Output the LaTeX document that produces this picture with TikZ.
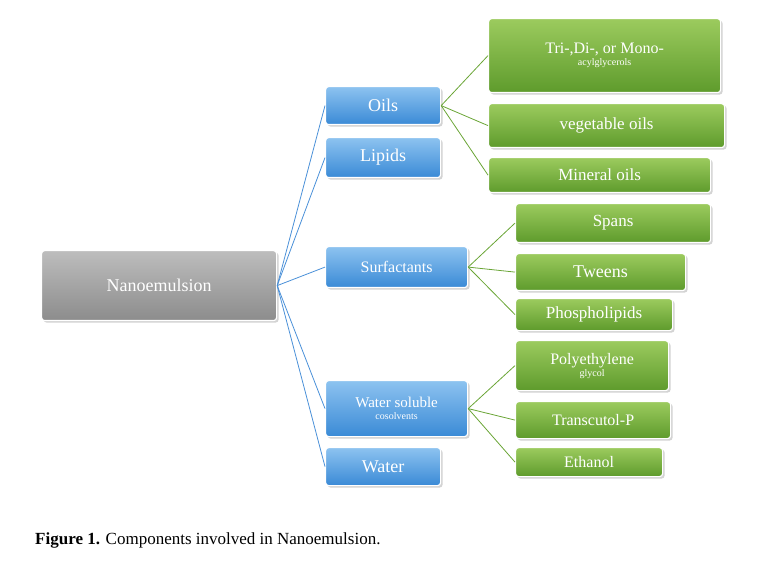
\documentclass[tikz,border=0pt]{standalone}
\usepackage{fontspec}
\setmainfont{Liberation Serif}
\usetikzlibrary{shadows}
\definecolor{bT}{HTML}{8DC3F0}
\definecolor{bB}{HTML}{3A8AD6}
\definecolor{gT}{HTML}{9CCB5E}
\definecolor{gB}{HTML}{5E9B2C}
\definecolor{yT}{HTML}{BDBDBD}
\definecolor{yB}{HTML}{8C8C8C}
\definecolor{bL}{HTML}{4A90D8}
\definecolor{gL}{HTML}{6AA536}
\begin{document}
\begin{tikzpicture}[x=1pt,y=-1pt,
 box/.style={draw=white,line width=1.2pt,rounded corners=3pt,align=center,text=white,
   drop shadow={shadow xshift=2pt,shadow yshift=-2pt,opacity=0.35}},
 bluebox/.style={box,top color=bT,bottom color=bB},
 greenbox/.style={box,top color=gT,bottom color=gB},
 graybox/.style={box,top color=yT,bottom color=yB},
 con/.style={draw=bL,line width=0.8pt},
 gcon/.style={draw=gL,line width=0.8pt}]
\useasboundingbox (0,0) rectangle (777,564);
\def\bx#1#2#3#4#5#6#7{\node[#2,minimum width=#5-#3,minimum height=#6-#4,anchor=north west,inner sep=2pt] (#1) at (#3,#4) {#7};}
\bx{nano}{graybox}{41}{250}{276}{320}{\fontsize{18}{20}\selectfont Nanoemulsion}
\bx{oils}{bluebox}{325}{86}{440}{124}{\fontsize{18}{20}\selectfont Oils}
\bx{lip}{bluebox}{325}{137}{440}{177}{\fontsize{18}{20}\selectfont Lipids}
\bx{surf}{bluebox}{325}{246}{467}{287}{\fontsize{16}{18}\selectfont Surfactants}
\bx{cos}{bluebox}{325}{380}{467}{436}{\fontsize{15}{17}\selectfont Water soluble\\cosolvents}
\bx{wat}{bluebox}{325}{447}{440}{485}{\fontsize{18}{20}\selectfont Water}
\bx{tri}{greenbox}{488}{18}{720}{92}{\fontsize{16}{20}\selectfont Tri-,Di-, or Mono-\\acylglycerols}
\bx{veg}{greenbox}{488}{103}{724}{147}{\fontsize{17}{20}\selectfont vegetable oils}
\bx{min}{greenbox}{488}{157}{710}{192}{\fontsize{17}{20}\selectfont Mineral oils}
\bx{spa}{greenbox}{515}{203}{710}{242}{\fontsize{17}{20}\selectfont Spans}
\bx{twe}{greenbox}{515}{253}{685}{290}{\fontsize{18}{20}\selectfont Tweens}
\bx{pho}{greenbox}{515}{298}{672}{330}{\fontsize{17}{20}\selectfont Phospholipids}
\bx{peg}{greenbox}{515}{340}{668}{390}{\fontsize{16}{19}\selectfont Polyethylene\\glycol}
\bx{tra}{greenbox}{515}{401}{670}{438}{\fontsize{16}{20}\selectfont Transcutol-P}
\bx{eth}{greenbox}{515}{447}{662}{476}{\fontsize{16}{20}\selectfont Ethanol}
\foreach \t in {oils,lip,surf,cos,wat} \draw[con] (nano.east) -- (\t.west);
\foreach \t in {tri,veg,min} \draw[gcon] (oils.east) -- (\t.west);
\foreach \t in {spa,twe,pho} \draw[gcon] (surf.east) -- (\t.west);
\foreach \t in {peg,tra,eth} \draw[gcon] (cos.east) -- (\t.west);
\node[anchor=west,inner sep=0pt] (cap) at (35,540) {\fontsize{17}{20}\selectfont\textbf{Figure 1.} Components involved in Nanoemulsion.};
\end{tikzpicture}
\end{document}
